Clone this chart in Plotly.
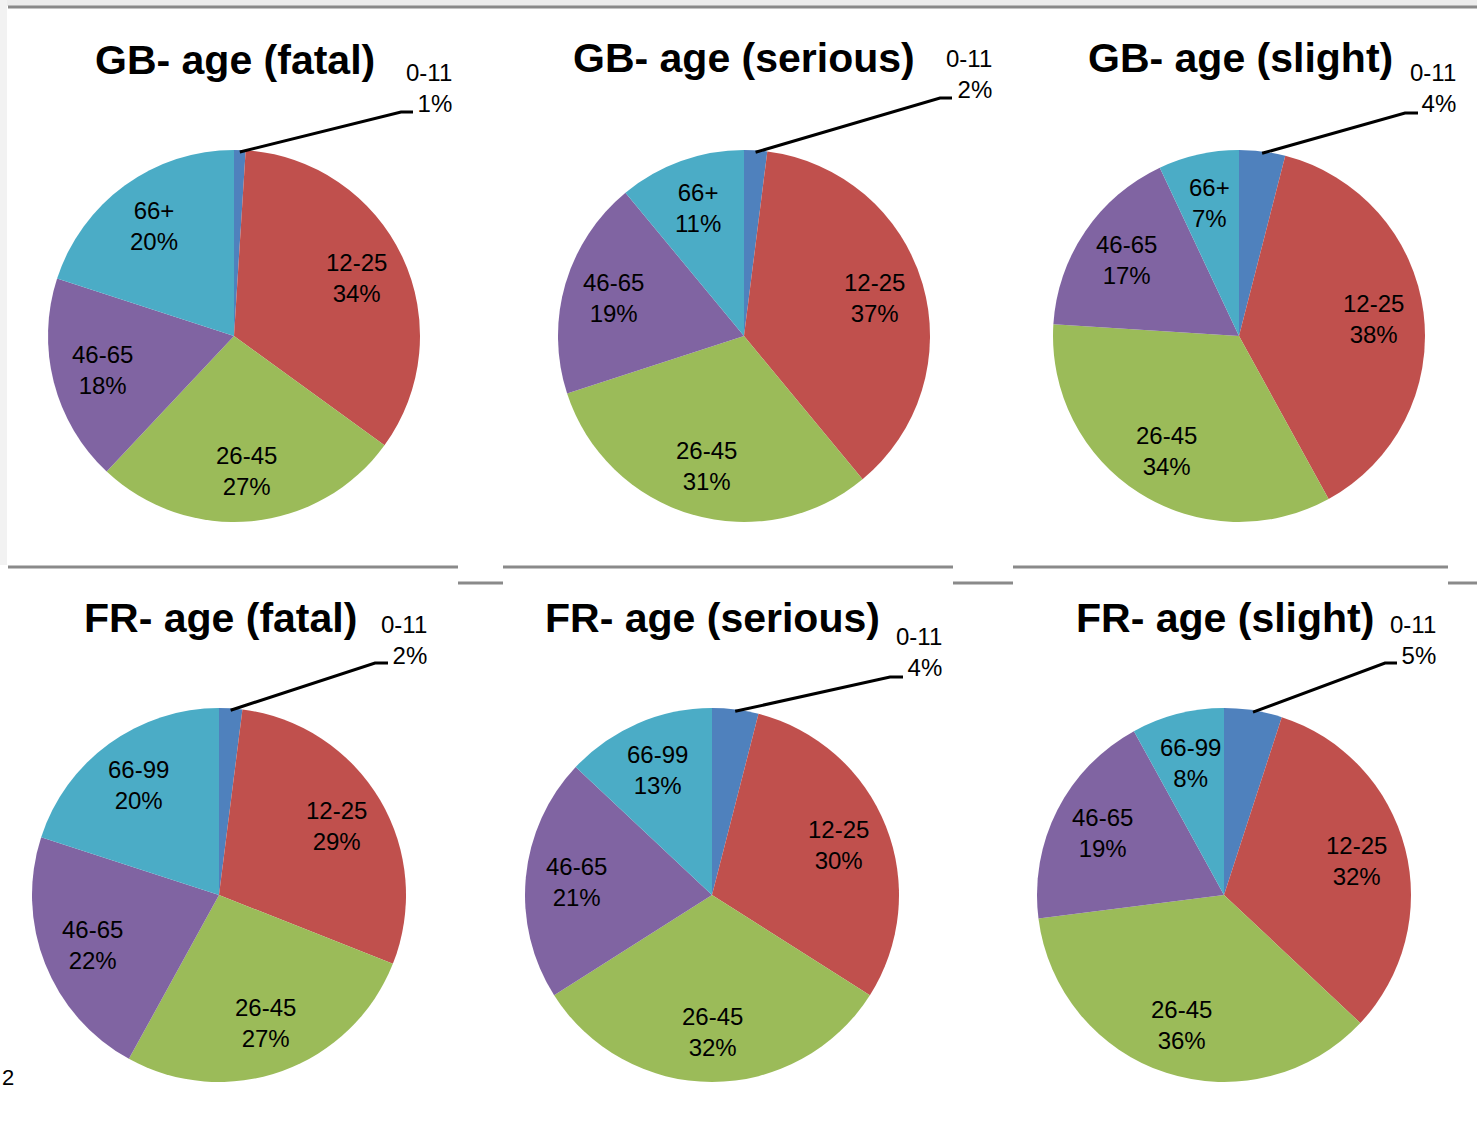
import math
import plotly.graph_objects as go

W, H = 1477, 1137

# Age groups (clockwise from 12 o'clock) and slice colours
age_gb = ["0-11", "12-25", "26-45", "46-65", "66+"]
age_fr = ["0-11", "12-25", "26-45", "46-65", "66-99"]
colors = ["#4F81BD", "#C0504D", "#9BBB59", "#8064A2", "#4BACC6"]

# Share of casualties by age group (%)
gb_fatal = [1, 34, 27, 18, 20]
gb_serious = [2, 37, 31, 19, 11]
gb_slight = [4, 38, 34, 17, 7]
fr_fatal = [2, 29, 27, 22, 20]
fr_serious = [4, 30, 32, 21, 13]
fr_slight = [5, 32, 36, 19, 8]

titles = ["GB- age (fatal)", "GB- age (serious)", "GB- age (slight)",
          "FR- age (fatal)", "FR- age (serious)", "FR- age (slight)"]

FONT = "Liberation Sans, Arial, Helvetica, sans-serif"
LABEL_RADIUS = 0.73  # data labels sit at this fraction of the pie radius


def px(x):
    return x / W


def py(y):
    return 1 - y / H


# Layout of each panel, in pixels: pie centre/radius, title centre,
# leader-line elbow, and callout anchor (right edge, vertical middle)
panels = [
    dict(labels=age_gb, values=gb_fatal, c=(234, 336), r=186, title=(235, 60),
         elbow=(401, 112), tail=12, callout=(454, 88)),
    dict(labels=age_gb, values=gb_serious, c=(744, 336), r=186, title=(744, 58),
         elbow=(940, 98), tail=12, callout=(994, 74)),
    dict(labels=age_gb, values=gb_slight, c=(1239, 336), r=186, title=(1240, 58),
         elbow=(1405, 113), tail=13, callout=(1458, 88)),
    dict(labels=age_fr, values=fr_fatal, c=(219, 895), r=187, title=(220, 618),
         elbow=(375, 663), tail=13, callout=(429, 640)),
    dict(labels=age_fr, values=fr_serious, c=(712, 895), r=187, title=(712, 618),
         elbow=(890, 677), tail=13, callout=(944, 652)),
    dict(labels=age_fr, values=fr_slight, c=(1224, 895), r=187, title=(1225, 618),
         elbow=(1385, 663), tail=12, callout=(1438, 640)),
]

fig = go.Figure()
annotations = []
shapes = []

# Light textured margin at the top and left edge of the slide
shapes.append(dict(type="rect", xref="paper", yref="paper", x0=0, x1=1,
                   y0=py(6), y1=1, fillcolor="#ededed", line_width=0, layer="below"))
shapes.append(dict(type="rect", xref="paper", yref="paper", x0=0, x1=px(7),
                   y0=py(565), y1=1, fillcolor="#f2f2f2", line_width=0, layer="below"))

for p, title in zip(panels, titles):
    cx, cy = p["c"]
    r = p["r"]
    vals = p["values"]
    total = sum(vals)
    fig.add_trace(go.Pie(
        labels=p["labels"],
        values=vals,
        sort=False,
        direction="clockwise",
        rotation=0,
        marker=dict(colors=colors, line=dict(width=0)),
        textinfo="none",
        domain=dict(x=[px(cx - r), px(cx + r)], y=[py(cy + r), py(cy - r)]),
        showlegend=False,
        hoverinfo="label+percent",
    ))

    # Data labels placed along each slice's mid-angle
    cum = 0
    for i, (lab, v) in enumerate(zip(p["labels"], vals)):
        mid = math.radians(360 * (cum + v / 2) / total)
        cum += v
        if i == 0:
            continue
        lx = cx + LABEL_RADIUS * r * math.sin(mid)
        ly = cy - LABEL_RADIUS * r * math.cos(mid)
        annotations.append(dict(
            text="%s<br>%d%%" % (lab, v), x=px(lx), y=py(ly),
            xref="paper", yref="paper", xanchor="center", yanchor="middle",
            align="center", showarrow=False,
            font=dict(family=FONT, size=24, color="#000000"),
        ))

    # Title
    annotations.append(dict(
        text="<b>%s</b>" % title, x=px(p["title"][0]), y=py(p["title"][1]),
        xref="paper", yref="paper", xanchor="center", yanchor="middle",
        showarrow=False, font=dict(family=FONT, size=41, color="#000000"),
    ))

    # Leader line from the middle of the 0-11 slice to its callout
    mid0 = math.radians(360 * vals[0] / total / 2)
    sx = cx + r * 0.99 * math.sin(mid0)
    sy = cy - r * 0.99 * math.cos(mid0)
    ex, ey = p["elbow"]
    path = "M %f %f L %f %f L %f %f" % (px(sx), py(sy), px(ex), py(ey),
                                       px(ex + p["tail"]), py(ey))
    shapes.append(dict(type="path", xref="paper", yref="paper", path=path,
                       line=dict(color="#000000", width=3)))

    annotations.append(dict(
        text="%s<br>%d%%" % (p["labels"][0], vals[0]),
        x=px(p["callout"][0]), y=py(p["callout"][1]),
        xref="paper", yref="paper", xanchor="right", yanchor="middle",
        align="right", showarrow=False,
        font=dict(family=FONT, size=24, color="#000000"),
    ))

# Slide divider lines
for x0, x1, y in [(8, 1477, 7),
                  (8, 458, 567), (503, 953, 567), (1013, 1448, 567),
                  (458, 503, 583), (953, 1013, 583), (1448, 1477, 583)]:
    shapes.append(dict(type="line", xref="paper", yref="paper",
                       x0=px(x0), x1=px(x1), y0=py(y), y1=py(y),
                       line=dict(color="#8a8a8a", width=3)))

# Slide number
annotations.append(dict(text="2", x=0, y=py(1077), xref="paper", yref="paper",
                        xanchor="left", yanchor="middle", showarrow=False,
                        font=dict(family=FONT, size=22, color="#000000")))

fig.update_layout(
    width=W, height=H,
    margin=dict(l=0, r=0, t=0, b=0),
    paper_bgcolor="#ffffff",
    plot_bgcolor="#ffffff",
    annotations=annotations,
    shapes=shapes,
)

fig.write_html("out.html")
